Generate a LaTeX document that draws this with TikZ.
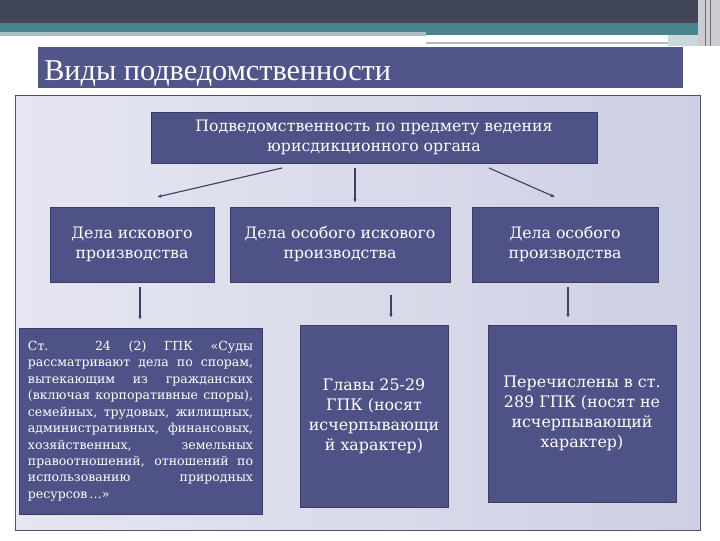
\documentclass[tikz,border=0pt]{standalone}
\usepackage{fontspec}
\setmainfont{DejaVu Serif}
\newfontfamily\titlefont{Liberation Serif}
\usetikzlibrary{arrows.meta,positioning}
\definecolor{bandDark}{HTML}{404556}
\definecolor{bandLine}{HTML}{4B4459}
\definecolor{bandTeal}{HTML}{45858B}
\definecolor{bandLight}{HTML}{A8BEC3}
\definecolor{bandGrey}{HTML}{B5B8C0}
\definecolor{titleFill}{HTML}{52558A}
\definecolor{boxFill}{HTML}{4F5286}
\definecolor{boxLine}{HTML}{3A3C66}
\definecolor{panelLeft}{HTML}{E6E6F2}
\definecolor{panelRight}{HTML}{CDD0E3}
\definecolor{panelLine}{HTML}{50506A}
\definecolor{linkCol}{HTML}{3D4060}

\begin{document}
\begin{tikzpicture}[x=0.025cm,y=-0.025cm,
  box/.style={draw=boxLine,line width=0.6pt,fill=boxFill,text=white,align=center,inner sep=0pt},
  link/.style={draw=linkCol,line width=0.8pt,-{Latex[length=3pt,width=2.5pt]}}]
  \useasboundingbox[fill=white] (0,0) rectangle (720,540);
  % top bands
  \fill[bandDark] (0,0) rectangle (700,19);
  \fill[bandLine] (0,19) rectangle (700,23);
  \fill[bandTeal] (0,23) rectangle (700,32);
  \fill[bandLight] (0,32) rectangle (426,36);
  \fill[bandTeal] (426,32) rectangle (700,35);
  \fill[bandGrey] (426,42) rectangle (668,44);
  \fill[bandLight!60] (668,35) rectangle (700,46);
  \fill[bandGrey!70] (698,0) rectangle (720,46);
  \draw[bandGrey!60!black,line width=0.5pt] (705,0) -- (705,46) (710,0) -- (710,46);
  % title
  \fill[titleFill] (38,47) rectangle (683,88);
  \node[anchor=base west,text=white,inner sep=0pt,font=\titlefont\fontsize{21.5}{24}\selectfont]
    (title) at (44,80) {Виды подведомственности};
  % panel
  \shade[left color=panelLeft,right color=panelRight] (15,95) rectangle (700,530);
  \draw[panelLine,line width=0.6pt] (15,95) rectangle (700,530);
  % boxes
  \node[box,minimum width=11.15cm,minimum height=1.275cm,font=\fontsize{11.2}{14.2}\selectfont]
    (top) at (374,137.5) {Подведомственность по предмету ведения\\юрисдикционного органа};
  \node[box,minimum width=4.1cm,minimum height=1.875cm,font=\fontsize{11.2}{14.2}\selectfont]
    (isk) at (132,244.5) {Дела искового\\производства};
  \node[box,minimum width=5.5cm,minimum height=1.875cm,font=\fontsize{11.2}{14.2}\selectfont]
    (osisk) at (340,244.5) {Дела особого искового\\производства};
  \node[box,minimum width=4.65cm,minimum height=1.875cm,font=\fontsize{11.2}{14.2}\selectfont]
    (osob) at (565,244.5) {Дела особого\\производства};
  \node[box,minimum width=6.075cm,minimum height=4.65cm,text width=5.625cm,align=justify,
    font=\fontsize{8.9}{11.7}\selectfont]
    (st24) at (140.5,421) {Ст. 24 (2) ГПК «Суды\linebreak рассматривают дела по спорам,\linebreak вытекающим из гражданских\linebreak (включая корпоративные споры),\linebreak семейных, трудовых, жилищных,\linebreak административных, финансовых,\linebreak хозяйственных, земельных\linebreak правоотношений, отношений по\linebreak использованию природных\linebreak ресурсов\,…»};
  \node[box,minimum width=3.7cm,minimum height=4.55cm,font=\fontsize{11.3}{14.2}\selectfont]
    (gl) at (374,416) {Главы 25-29\\ГПК (носят\\исчерпывающи\\й характер)};
  \node[box,minimum width=4.7cm,minimum height=4.425cm,font=\fontsize{11.3}{14.2}\selectfont]
    (per) at (582,413.5) {Перечислены в ст.\\289 ГПК (носят не\\исчерпывающий\\характер)};
  % arrows
  \coordinate (t1) at (282,168); \coordinate (h1) at (157,197);
  \coordinate (t2) at (355,168); \coordinate (h2) at (355,203);
  \coordinate (t3) at (489,168); \coordinate (h3) at (555,197);
  \coordinate (t4) at (140,287); \coordinate (h4) at (140,320);
  \coordinate (t5) at (391,295); \coordinate (h5) at (391,318);
  \coordinate (t6) at (568,287); \coordinate (h6) at (568,318);
  \draw[link] (t1) -- (h1);
  \draw[link] (t2) -- (h2);
  \draw[link] (t3) -- (h3);
  \draw[link] (t4) -- (h4);
  \draw[link] (t5) -- (h5);
  \draw[link] (t6) -- (h6);
\end{tikzpicture}
\end{document}
